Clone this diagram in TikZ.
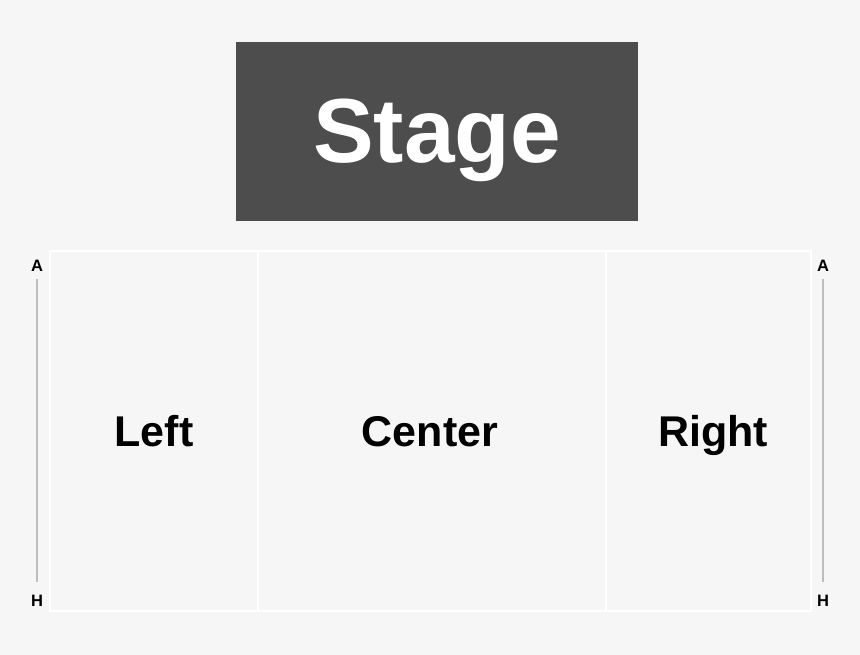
\documentclass[tikz,border=0pt]{standalone}
\usepackage{fontspec}
\setmainfont{Liberation Sans}
\definecolor{bg}{HTML}{F6F6F6}
\definecolor{stagefill}{HTML}{4D4D4D}
\definecolor{rowline}{HTML}{BDBDBD}
\begin{document}
\begin{tikzpicture}[x=1pt,y=-1pt,
  section/.style={draw=white,line width=1.5pt,fill=bg},
  seclabel/.style={anchor=base,inner sep=0pt,font=\fontsize{43}{43}\selectfont\bfseries,text=black},
  rowlabel/.style={anchor=base,inner sep=0pt,font=\fontsize{16.5}{16.5}\selectfont\bfseries,text=black},
  rowrule/.style={draw=rowline,line width=1.2pt}]
\fill[bg] (0,0) rectangle (860,655);
\useasboundingbox (0,0) rectangle (860,655);
% stage
\node[fill=stagefill,minimum width=402pt,minimum height=179pt,inner sep=0pt] (stage) at (437,131.5) {};
\node[anchor=base,inner sep=0pt,text=white,font=\fontsize{91}{91}\selectfont\bfseries] (stagetxt) at (437,163) {Stage};
% sections
\draw[section] (50,251) rectangle (258,611);
\draw[section] (258,251) rectangle (606,611);
\draw[section] (606,251) rectangle (811,611);
\node[seclabel] (left) at (154,446) {Left};
\node[seclabel] (center) at (430,446) {Center};
\node[seclabel] (right) at (713,446) {Right};
% row markers
\node[rowlabel] (a1) at (37,272) {A};
\node[rowlabel] (h1) at (37,606) {H};
\node[rowlabel] (a2) at (823,272) {A};
\node[rowlabel] (h2) at (823,606) {H};
\draw[rowrule] ([yshift=-7pt]a1.south) -- ([yshift=12pt]h1.north);
\draw[rowrule] ([yshift=-7pt]a2.south) -- ([yshift=12pt]h2.north);
\end{tikzpicture}
\end{document}
